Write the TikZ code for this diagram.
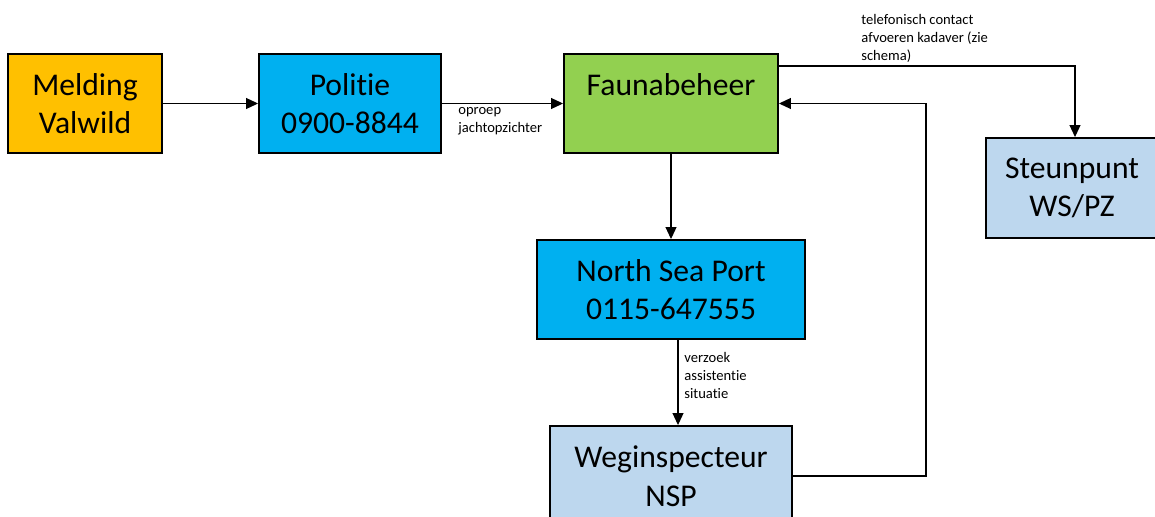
\documentclass[tikz,border=0pt]{standalone}
\usepackage{fontspec}
\setmainfont[Ligatures={NoCommon,NoRequired,NoContextual}]{Carlito}
\usepackage{tikz}
\usetikzlibrary{positioning,calc,arrows.meta}
\definecolor{meldorange}{HTML}{FFC000}
\definecolor{portblue}{HTML}{00B0F0}
\definecolor{faunagreen}{HTML}{92D050}
\definecolor{paleblue}{HTML}{BDD7EE}

\begin{document}
\begin{tikzpicture}[
    box/.style={draw, line width=1.1pt, minimum height=1.98cm, align=center, inner sep=0pt, font=\fontsize{18}{22}\selectfont},
    note/.style={align=left, inner sep=0pt, font=\fontsize{8.3}{10.2}\selectfont},
    flow/.style={-{Triangle[length=0.24cm,width=0.22cm]}, line width=0.6pt}
]
    \useasboundingbox (0,0) rectangle (23.1,-10.34);

    \node [box, fill=meldorange, minimum width=3.08cm] at (1.70,-2.07)  (meld)  {Melding\\Valwild};
    \node [box, fill=portblue,   minimum width=3.64cm] at (7.00,-2.07)  (pol)   {Politie\\0900-8844};
    \node [box, fill=faunagreen, minimum width=4.28cm] at (13.42,-2.07) (fauna) {Faunabeheer\\\mbox{}};
    \node [box, fill=paleblue,   minimum width=3.44cm, minimum height=2cm] at (21.44,-3.76) (steun) {Steunpunt\\WS/PZ};
    \node [box, fill=portblue,   minimum width=5.36cm] at (13.42,-5.79) (nsp)   {North Sea Port\\0115-647555};
    \node [box, fill=paleblue,   minimum width=4.84cm, minimum height=2cm] at (13.42,-9.52) (weg) {Weginspecteur\\NSP};

    \draw [flow] (meld) -- (pol);
    \draw [flow] (pol) -- (fauna);
    \draw [flow] ([yshift=0.75cm]fauna.east) -| ([xshift=0.06cm]steun.north);
    \draw [flow] (fauna) -- (nsp);
    \draw [flow] ([xshift=0.14cm]nsp.south) -- ([xshift=0.14cm]weg.north);
    \draw [flow] (weg.east) -- ++(2.66,0) |- (fauna.east);

    \node [note, anchor=north west] at (9.16,-2.14)  (oproep)  {oproep\\jachtopzichter};
    \node [note, anchor=north west] at (17.22,-0.28) (telcont) {telefonisch contact\\afvoeren kadaver (zie\\schema)};
    \node [note, anchor=north west] at (13.68,-7.04) (verzoek) {verzoek\\assistentie\\situatie};
\end{tikzpicture}
\end{document}
